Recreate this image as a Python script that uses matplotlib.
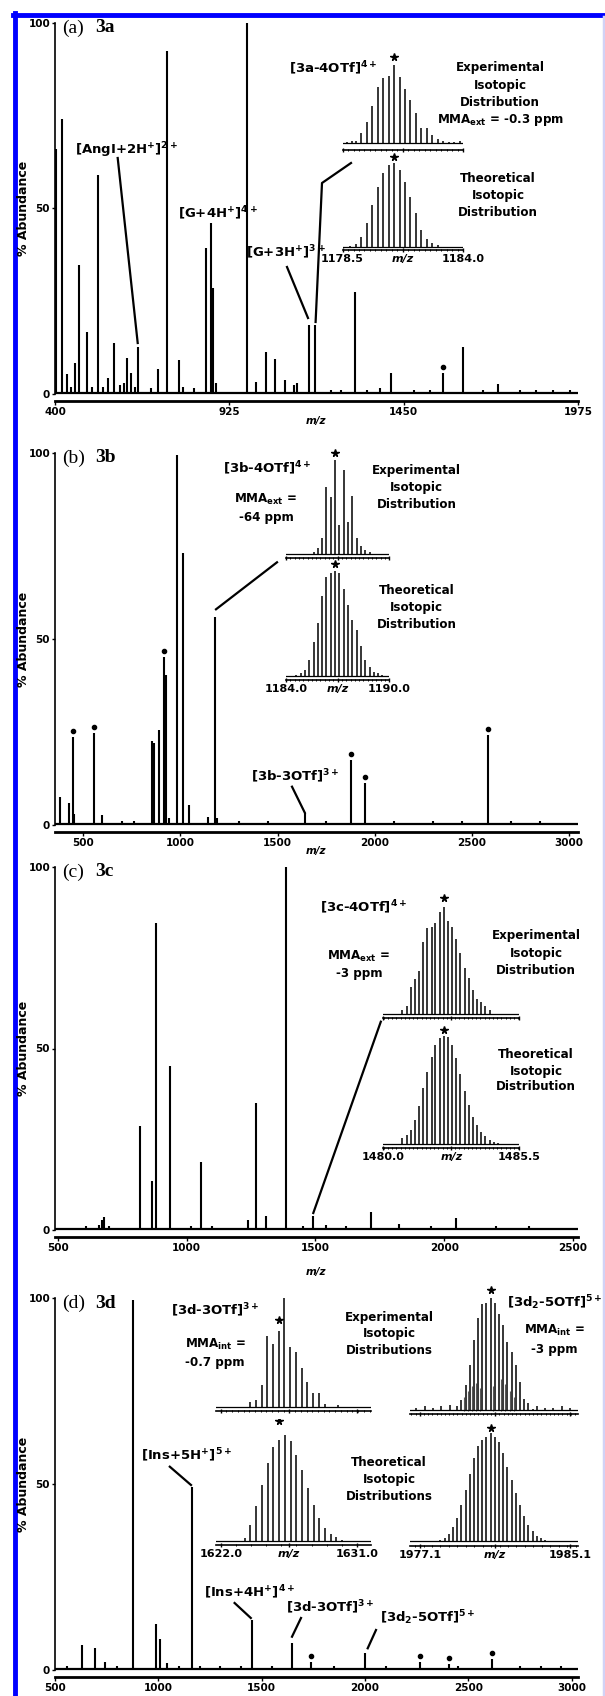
import matplotlib
matplotlib.use("Agg")
import matplotlib.pyplot as plt
from matplotlib.lines import Line2D
from matplotlib.transforms import Affine2D
from matplotlib.ticker import MultipleLocator

# ---- main spectra (m/z, % abundance) ----
a_mz = [403, 420, 435, 447, 460, 472, 497, 512, 530, 546,
        559, 579, 595, 608, 616, 628, 640, 651, 690, 711,
        738, 773, 785, 820, 856, 871, 877, 886, 979, 1004,
        1035, 1063, 1093, 1120, 1130, 1165, 1183, 1230, 1260, 1304,
        1340, 1380, 1411, 1480, 1530, 1568, 1628, 1690, 1735, 1800,
        1850, 1900, 1950]
a_ab = [66, 74, 5.4, 2, 8.4, 34.8, 16.7, 2, 59, 2,
        4.3, 13.7, 2.5, 3, 9.7, 5.7, 2, 12.7, 1.5, 6.7,
        92.5, 9.2, 2, 1.5, 39.4, 46, 28.6, 3, 100, 3.2,
        11.3, 9.4, 3.8, 2.5, 3, 18.6, 18.6, 1, 1.2, 27.5,
        1, 1.5, 5.7, 1, 1.2, 5.7, 12.7, 1, 2.7, 1,
        1, 1, 1]
a_dots = [1568]

b_mz = [380, 425, 449, 455, 558, 598, 700, 760, 856, 866,
        891, 916, 926, 940, 981, 1011, 1044, 1143, 1180, 1190,
        1300, 1450, 1640, 1750, 1878, 1952, 2100, 2300, 2450, 2582,
        2700, 2850]
b_ab = [7.6, 5.9, 23.7, 3, 24.8, 2.7, 1, 1, 22.7, 22,
        25.5, 45.2, 40.3, 2, 99.5, 73, 5.4, 2.2, 56, 2,
        1, 1, 3.2, 1, 17.5, 11.3, 1, 1, 1, 24.2,
        1, 1]
b_dots = [449, 558, 916, 1878, 1952, 2582]

c_mz = [608, 660, 671, 680, 700, 818, 867, 882, 937, 1017,
        1057, 1100, 1237, 1271, 1309, 1387, 1450, 1491, 1541, 1620,
        1716, 1825, 1950, 2047, 2200, 2330]
c_ab = [1, 1.5, 2.8, 3.7, 1, 28.6, 13.5, 84.5, 45.2, 1,
        18.8, 1, 2.8, 35.0, 3.9, 100, 1, 3.9, 1.5, 1,
        5.0, 1.7, 1, 3.2, 1, 1]

d_mz = [560, 630, 695, 742, 800, 878, 990, 1008, 1040, 1100,
        1161, 1200, 1300, 1400, 1451, 1550, 1647, 1740, 1850, 2000,
        2100, 2268, 2405, 2450, 2614, 2750, 2850, 2950]
d_ab = [1, 6.7, 5.8, 2.2, 1, 99.5, 12.3, 8.2, 2, 1,
        49.1, 1, 1, 1, 13.4, 1, 7.3, 2.2, 1, 4.5,
        1, 2.2, 1.6, 1.2, 3.0, 1, 1, 1]
d_dots = [1740, 2268, 2405, 2614]

# ---- isotopic distributions (insets) ----
a_exp_mz = [1178.70, 1178.95, 1179.10, 1179.35, 1179.60, 1179.85, 1180.10, 1180.35,
            1180.60, 1180.85, 1181.10, 1181.35, 1181.60, 1181.85, 1182.10, 1182.35,
            1182.60, 1182.85, 1183.10, 1183.35, 1183.60, 1183.85]
a_exp_ab = [3, 4, 4, 14, 28, 48, 72, 84,
            86, 100, 85, 70, 56, 39, 20, 20,
            11, 6, 4, 3, 3, 4]
a_th_mz = [1178.85, 1179.10, 1179.35, 1179.60, 1179.85, 1180.10, 1180.35, 1180.60, 1180.85,
           1181.10, 1181.35, 1181.60, 1181.85, 1182.10, 1182.35, 1182.60, 1182.85]
a_th_ab = [2, 5, 13, 29, 51, 72, 88, 98, 100, 92, 78, 60, 41, 21, 11, 6, 3]

b_exp_mz = [1185.60, 1185.85, 1186.10, 1186.35, 1186.60, 1186.85, 1187.10, 1187.35,
            1187.60, 1187.85, 1188.10, 1188.35, 1188.60, 1188.85]
b_exp_ab = [3, 7, 18, 72, 61, 100, 32, 90, 35, 62, 18, 9, 5, 3]
b_th_mz = [1184.60, 1184.85, 1185.10, 1185.35, 1185.60, 1185.85, 1186.10, 1186.35,
           1186.60, 1186.85, 1187.10, 1187.35, 1187.60, 1187.85, 1188.10, 1188.35,
           1188.60, 1188.85, 1189.10, 1189.35, 1189.60]
b_th_ab = [2, 4, 7, 16, 33, 51, 76, 94, 98, 100, 98, 83, 68, 54, 44, 29, 16, 10, 5, 4, 2]

c_exp_mz = [1480.77, 1480.94, 1481.11, 1481.27, 1481.44, 1481.61, 1481.78, 1481.95,
            1482.11, 1482.28, 1482.45, 1482.62, 1482.79, 1482.95, 1483.12, 1483.29,
            1483.46, 1483.63, 1483.79, 1483.96, 1484.13, 1484.30]
c_exp_ab = [5, 8, 26, 33, 41, 67, 80, 81, 85, 95, 100, 87, 81, 70, 57, 43, 34, 23, 15, 12, 8, 5]
c_th_mz = [1480.77, 1480.94, 1481.11, 1481.27, 1481.44, 1481.61, 1481.78, 1481.95,
           1482.11, 1482.28, 1482.45, 1482.62, 1482.79, 1482.95, 1483.12, 1483.29,
           1483.46, 1483.63, 1483.79, 1483.96, 1484.13, 1484.30, 1484.47, 1484.63]
c_th_ab = [6, 9, 14, 23, 36, 52, 67, 81, 92, 98, 100, 99, 92, 80, 65, 50, 37, 26, 18, 12, 8, 5, 3, 2]

dl_exp_mz = [1623.94, 1624.32, 1624.70, 1625.08, 1625.45, 1625.83, 1626.21, 1626.59,
             1626.97, 1627.35, 1627.72, 1628.10, 1628.48, 1628.86, 1629.71]
dl_exp_ab = [5, 7, 21, 65, 58, 70, 100, 55, 51, 36, 23, 13, 13, 3, 2]
dl_th_mz = [1622.83, 1623.21, 1623.58, 1623.96, 1624.34, 1624.72, 1625.10, 1625.48,
            1625.86, 1626.23, 1626.61, 1626.99, 1627.37, 1627.75, 1628.13, 1628.51,
            1628.88, 1629.26, 1629.64, 1630.02, 1630.40, 1630.78]
dl_th_ab = [1, 1, 3, 16, 33, 53, 74, 89, 95, 100, 94, 81, 67, 50, 34, 22, 13, 7, 4, 2, 1, 1]

dr_exp_mz = [1976.92, 1977.36, 1977.81, 1978.25, 1978.70, 1979.09, 1979.31, 1979.54,
             1979.76, 1979.98, 1980.21, 1980.43, 1980.65, 1980.88, 1981.10, 1981.32,
             1981.54, 1981.77, 1981.99, 1982.21, 1982.44, 1982.66, 1982.88, 1983.11,
             1983.32, 1983.77, 1984.21, 1984.66, 1985.10]
dr_exp_ab = [3, 4, 3, 4, 5, 4, 10, 23, 41, 63, 82, 94, 95, 100, 95, 86,
             76, 61, 52, 41, 26, 11, 7, 2, 4, 3, 3, 4, 3]
dr_exp2_mz = [1979.43, 1979.65, 1979.87, 1980.10, 1980.32, 1980.99, 1981.44, 1981.66, 1981.88, 1982.11]
dr_exp2_ab = [12, 18, 22, 25, 20, 22, 28, 24, 18, 12]
dr_th_mz = [1977.75, 1977.97, 1978.20, 1978.42, 1978.64, 1978.87, 1979.09, 1979.31,
            1979.54, 1979.76, 1979.98, 1980.21, 1980.43, 1980.65, 1980.88, 1981.10,
            1981.32, 1981.54, 1981.77, 1981.99, 1982.21, 1982.44, 1982.66, 1982.88,
            1983.11, 1983.33, 1983.55, 1983.78, 1984.00]
dr_th_ab = [1, 1, 2, 4, 8, 14, 22, 34, 48, 63, 77, 88, 94, 97, 100, 97,
            92, 82, 69, 57, 45, 34, 24, 16, 10, 6, 4, 2, 1]

W, H = 605, 1696
fig = plt.figure(figsize=(W / 100, H / 100), dpi=100)
fig.patch.set_facecolor("white")
# pixel coords of the reference, origin top-left
PX = Affine2D().scale(1.0 / W, -1.0 / H).translate(0, 1) + fig.transFigure


def rect(x0, x1, ytop, ybot):
    return [x0 / W, 1 - ybot / H, (x1 - x0) / W, (ybot - ytop) / H]


def txt(x, y, s, size=9.5, ha="left", **kw):
    fig.text(x, y, s, transform=PX, ha=ha, va="center", fontsize=size,
             fontweight="bold", **kw)


def lines(x, ys, rows, size=8.6):
    for y, r in zip(ys, rows):
        txt(x, y, r, size=size, ha="center")


def leader(xs, ys, lw=1.6):
    fig.add_artist(Line2D(xs, ys, transform=PX, color="k", lw=lw))


def main_panel(mz, ab, xlim, ticks, y100, y0, dots, title, xlab_y):
    s = (y0 - y100) / 100.0
    ax = fig.add_axes(rect(55, 578, y100 - 1 * s, y0 + 1.8 * s))
    ax.set_xlim(*xlim)
    ax.set_ylim(-1.8, 101)
    ax.patch.set_alpha(0)
    ax.vlines(mz, 0, ab, color="k", lw=1.5)
    ax.axhline(0.4, color="k", lw=1.6)
    if dots:
        dy = [ab[mz.index(m)] + 1.6 for m in dots]
        ax.plot(dots, dy, "o", color="k", ms=3)
    for side in ["top", "right"]:
        ax.spines[side].set_visible(False)
    ax.spines["left"].set_bounds(0, 100)
    ax.spines["left"].set_linewidth(1.2)
    ax.spines["bottom"].set_linewidth(2.0)
    ax.set_yticks([0, 50, 100], ["0", "50", "100"], fontsize=7.5, fontweight="bold")
    ax.set_xticks(ticks, [str(t) for t in ticks], fontsize=7.5, fontweight="bold")
    ax.tick_params(axis="y", length=2.5, width=1, pad=1)
    ax.tick_params(axis="x", length=3, width=1, pad=1.5)
    fig.text(24, (y100 + y0) / 2, "% Abundance", transform=PX, rotation=90,
             ha="center", va="center", fontsize=9, fontweight="bold")
    fig.text(316, xlab_y, "m/z", transform=PX, ha="center", va="center",
             fontsize=7.5, fontweight="bold", fontstyle="italic")
    fig.text(62, y100 + 5, title[0], transform=PX, ha="left", va="center",
             fontsize=14, family="Liberation Serif")
    fig.text(95, y100 + 5, title[1], transform=PX, ha="left", va="center",
             fontsize=14, family="Liberation Serif", fontweight="bold")
    return ax


def inset(mz, ab, x0, x1, ybase, y100, xr, star, ylo=-4, labels=None, ticks=None,
          minor=0.25, extra=None):
    s = (ybase - y100) / 100.0
    ax = fig.add_axes(rect(x0, x1, y100 - 15 * s, ybase - ylo * s))
    ax.set_xlim(*xr)
    ax.set_ylim(ylo, 115)
    ax.patch.set_alpha(0)
    ax.vlines(mz, 0, ab, color="k", lw=1.1)
    if extra:
        ax.vlines(extra[0], 0, extra[1], color="0.35", lw=0.8)
    ax.axhline(0.8, color="k", lw=0.9)
    ax.plot([star[0]], [star[1]], marker="*", color="k", ms=5.5)
    for side in ["top", "right", "left"]:
        ax.spines[side].set_visible(False)
    ax.spines["bottom"].set_linewidth(1.2)
    ax.set_yticks([])
    if ticks is None:
        ticks = [xr[0], (xr[0] + xr[1]) / 2, xr[1]]
    if labels:
        ax.set_xticks(ticks, labels, fontsize=8, fontweight="bold")
        ax.get_xticklabels()[1].set_fontstyle("italic")
    else:
        ax.set_xticks(ticks, ["", "", ""])
    ax.xaxis.set_minor_locator(MultipleLocator(minor))
    ax.tick_params(axis="x", which="major", length=3, width=1, pad=1.5, direction="inout")
    ax.tick_params(axis="x", which="minor", length=2, width=0.7, direction="inout")
    return ax


# ---------------- (a) 3a ----------------
main_panel(a_mz, a_ab, (400, 1975), [400, 925, 1450, 1975], 23, 394, a_dots,
           ("(a)", "3a"), 421)
inset(a_exp_mz, a_exp_ab, 342.6, 463, 144, 65, (1178.5, 1184.0), (1180.85, 110), ylo=-7)
inset(a_th_mz, a_th_ab, 342.6, 463, 248, 163.3, (1178.5, 1184.0), (1180.85, 108), ylo=-2.5,
      labels=["1178.5", "m/z", "1184.0"])
txt(75, 150, r"[AngI+2H$^{\mathbf{+}}$]$^{\mathbf{2+}}$")
txt(178, 213, r"[G+4H$^{\mathbf{+}}$]$^{\mathbf{4+}}$")
txt(246, 252, r"[G+3H$^{\mathbf{+}}$]$^{\mathbf{3+}}$")
txt(289, 68, r"[3a-4OTf]$^{\mathbf{4+}}$")
lines(500, [68, 86, 103, 120], ["Experimental", "Isotopic", "Distribution",
                                r"MMA$_{\mathbf{ext}}$ = -0.3 ppm"])
lines(498, [179, 196, 213], ["Theoretical", "Isotopic", "Distribution"])
leader([117.7, 137.7], [158, 343])
leader([287, 308], [267, 318])
leader([315.6, 322, 351], [322, 183, 163])

# ---------------- (b) 3b ----------------
main_panel(b_mz, b_ab, (355, 3045), [500, 1000, 1500, 2000, 2500, 3000], 453, 825, b_dots,
           ("(b)", "3b"), 851)
inset(b_exp_mz, b_exp_ab, 286, 389.3, 555, 460, (1184.0, 1190.0), (1186.85, 107), ylo=-3)
inset(b_th_mz, b_th_ab, 286, 389.3, 677.3, 570.7, (1184.0, 1190.0), (1186.85, 106), ylo=-2.5,
      labels=["1184.0", "m/z", "1190.0"])
txt(223, 468, r"[3b-4OTf]$^{\mathbf{4+}}$")
lines(266, [499, 517], [r"MMA$_{\mathbf{ext}}$ =", "-64 ppm"])
lines(416.7, [470.7, 488, 505], ["Experimental", "Isotopic", "Distribution"])
lines(416.7, [590, 607.3, 624], ["Theoretical", "Isotopic", "Distribution"])
txt(250.8, 775.7, r"[3b-3OTf]$^{\mathbf{3+}}$")
leader([216, 277], [609.3, 562.3])
leader([292, 304.8], [786.7, 812.7])

# ---------------- (c) 3c ----------------
main_panel(c_mz, c_ab, (489, 2519), [500, 1000, 1500, 2000, 2500], 867, 1230, None,
           ("(c)", "3c"), 1272)
inset(c_exp_mz, c_exp_ab, 383.3, 519.3, 1015, 906.7, (1480.0, 1485.5), (1482.45, 107.7), ylo=-3,
      minor=0.17)
inset(c_th_mz, c_th_ab, 383.3, 519.3, 1145, 1036, (1480.0, 1485.5), (1482.45, 105.5), ylo=-2.5,
      labels=["1480.0", "m/z", "1485.5"], minor=0.17)
txt(320, 907, r"[3c-4OTf]$^{\mathbf{4+}}$")
lines(359, [956, 974], [r"MMA$_{\mathbf{ext}}$ =", "-3 ppm"])
lines(536, [935, 953, 970], ["Experimental", "Isotopic", "Distribution"])
lines(536, [1054, 1071, 1087], ["Theoretical", "Isotopic", "Distribution"])
leader([380.8, 313.3], [1021.7, 1213])

# ---------------- (d) 3d ----------------
main_panel(d_mz, d_ab, (500, 3030), [500, 1000, 1500, 2000, 2500, 3000], 1298, 1670, d_dots,
           ("(d)", "3d"), 1701)
dl_xr = (1621.69, 1631.90)
dr_xr = (1976.58, 1985.51)
inset(dl_exp_mz, dl_exp_ab, 216, 370.7, 1407.7, 1297.7, dl_xr, (1625.83, 80), ylo=-3,
      ticks=[1622.0, 1626.5, 1631.0], minor=0.378)
inset(dl_th_mz, dl_th_ab, 216, 370.7, 1541.7, 1435, dl_xr, (1625.86, 113), ylo=-3,
      ticks=[1622.0, 1626.5, 1631.0], labels=["1622.0", "m/z", "1631.0"], minor=1.0)
inset(dr_exp_mz, dr_exp_ab, 410, 577.7, 1411, 1297.7, dr_xr, (1980.88, 107), ylo=-3,
      ticks=[1977.1, 1981.1, 1985.1], minor=0.2233, extra=(dr_exp2_mz, dr_exp2_ab))
inset(dr_th_mz, dr_th_ab, 410, 577.7, 1542.3, 1433.3, dr_xr, (1980.88, 104.6), ylo=-3,
      ticks=[1977.1, 1981.1, 1985.1], labels=["1977.1", "m/z", "1985.1"], minor=0.45)
txt(171, 1310, r"[3d-3OTf]$^{\mathbf{3+}}$")
lines(215, [1344, 1362.7], [r"MMA$_{\mathbf{int}}$ =", "-0.7 ppm"])
lines(389.7, [1317, 1334, 1351], ["Experimental", "Isotopic", "Distributions"])
lines(389, [1463, 1480, 1497], ["Theoretical", "Isotopic", "Distributions"])
txt(507, 1303, r"[3d$_{\mathbf{2}}$-5OTf]$^{\mathbf{5+}}$")
lines(554, [1330, 1350], [r"MMA$_{\mathbf{int}}$ =", "-3 ppm"])
txt(140.8, 1455, r"[Ins+5H$^{\mathbf{+}}$]$^{\mathbf{5+}}$")
txt(203.7, 1591.7, r"[Ins+4H$^{\mathbf{+}}$]$^{\mathbf{4+}}$")
txt(285.5, 1606.7, r"[3d-3OTf]$^{\mathbf{3+}}$")
txt(380, 1617.7, r"[3d$_{\mathbf{2}}$-5OTf]$^{\mathbf{5+}}$")
leader([169.8, 191], [1466.7, 1485])
leader([234.6, 250.8], [1603, 1618])
leader([301, 292], [1618, 1636.7])
leader([376, 367.7], [1630, 1648.3])

# blue frame from the scan
fig.add_artist(Line2D([13, 605], [15, 15], transform=PX, color="#0000ff", lw=3.5))
fig.add_artist(Line2D([15, 15], [13, 1696], transform=PX, color="#0000ff", lw=3.5))
fig.add_artist(Line2D([603.5, 603.5], [17, 1696], transform=PX, color="#d2d2f6", lw=2.5))

fig.savefig("out.png", dpi=100)
